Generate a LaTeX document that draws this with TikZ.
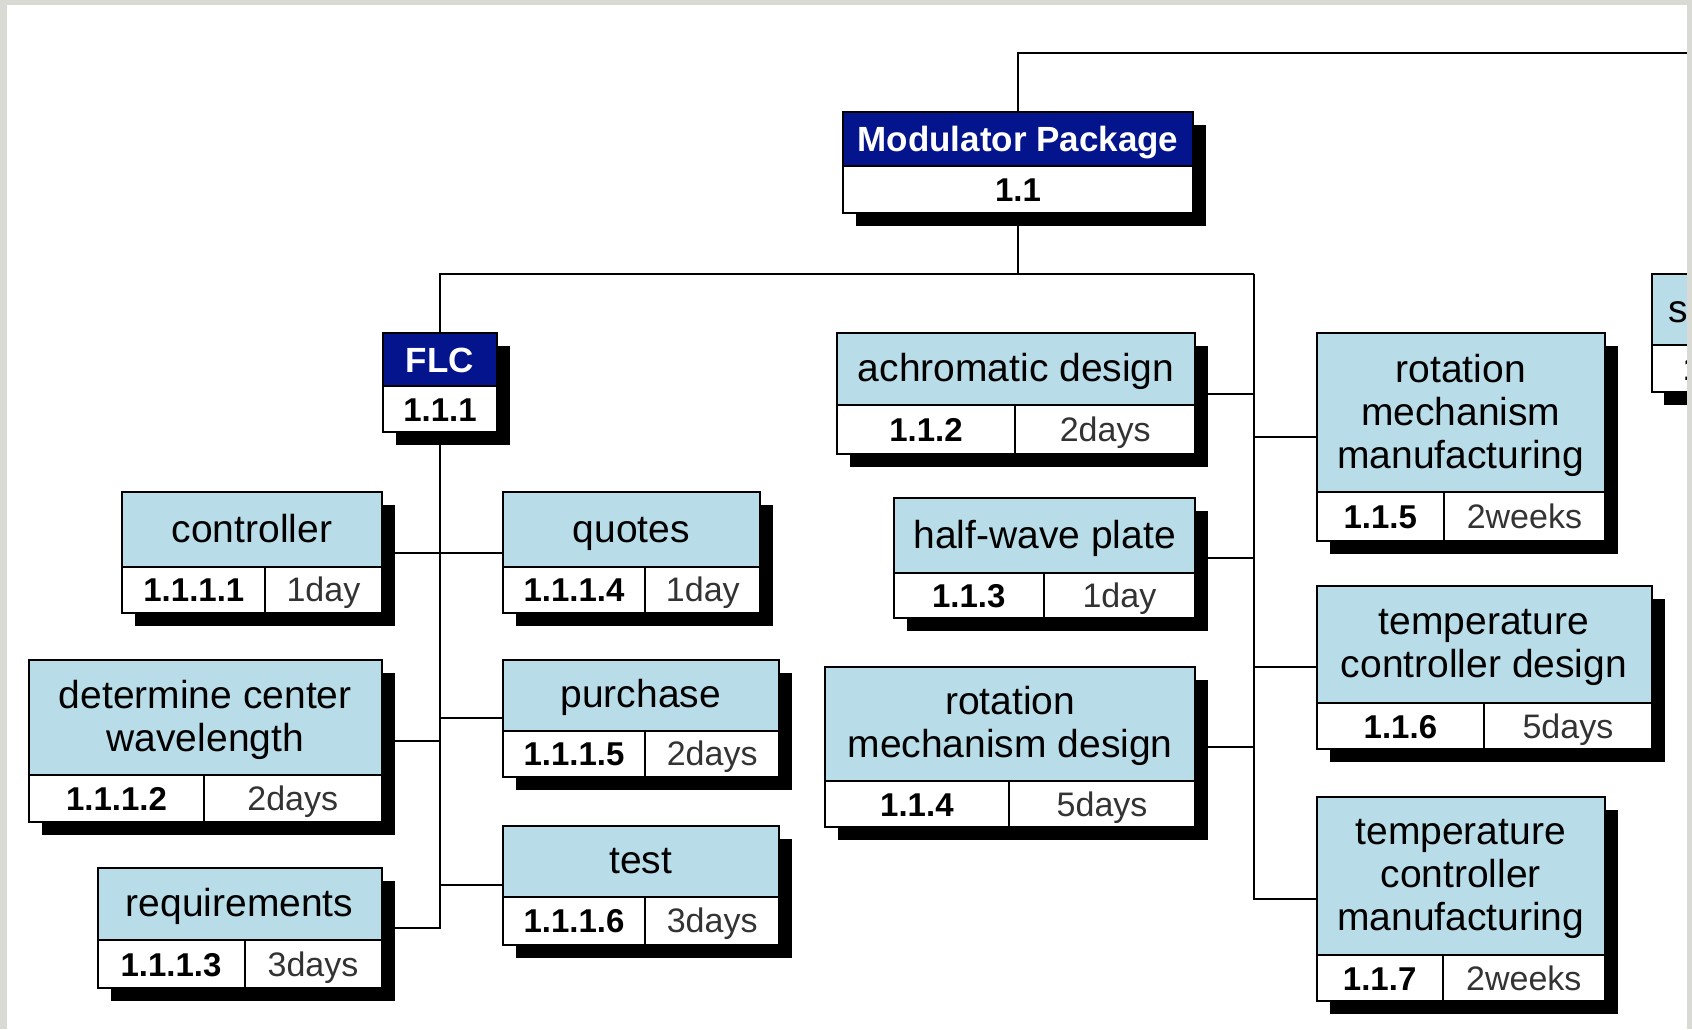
\documentclass[tikz,border=0pt]{standalone}
\usepackage{fontspec}
\setmainfont{Liberation Sans}
\pgfdeclarelayer{bgw}
\pgfdeclarelayer{conn}
\pgfsetlayers{bgw,conn,main}
\definecolor{hdrblue}{RGB}{184,221,232}
\definecolor{navyblue}{RGB}{4,20,140}
\definecolor{framegray}{RGB}{218,218,212}
\newcommand\hdrstrut{\rule[-5pt]{0pt}{22.6pt}}
\def\hdrshift{0pt}
\tikzset{
  boxline/.style={draw=black, line width=1pt},
  connline/.style={draw=black, line width=1pt},
  boxarea/.style={inner sep=0pt, outer sep=0pt, draw=none},
  shadowfill/.style={fill=black},
  hdrtext/.style={font=\fontsize{19.5}{21.5}\selectfont, align=center, inner sep=0pt, text=black,
    execute at begin node=\hdrstrut, execute at end node=\hdrstrut},
  navytext/.style={font=\fontsize{17.5}{20}\selectfont\bfseries, inner sep=0pt, text=white,
    text height=12.6pt, text depth=0pt},
  numtext/.style={font=\fontsize{16.5}{19}\selectfont\bfseries, inner sep=0pt, text=black,
    text height=12pt, text depth=0pt},
  durtext/.style={font=\fontsize{17}{19}\selectfont, inner sep=0pt, text=black!80,
    text height=12pt, text depth=0pt},
}
% light-blue task box: name, l, t, r, b, h(header bottom), s(split), header
\newcommand\tbox[8]{%
  \def\tbL{#2}\def\tbT{#3}\def\tbR{#4}\def\tbB{#5}\def\tbH{#6}\def\tbS{#7}\def\tbN{#1}%
  \fill[shadowfill] ({#2+13},{#3+13}) rectangle ({#4+13},{#5+13});
  \node[boxarea, minimum width={(#4-#2)*0.5pt}, minimum height={(#5-#3)*0.5pt}] (#1) at ({(#2+#4)/2},{(#3+#5)/2}) {};
  \fill[hdrblue] (#2,#3) rectangle (#4,#6);
  \fill[white] (#2,#6) rectangle (#4,#5);
  \draw[boxline] (#2,#3) rectangle (#4,#5);
  \draw[boxline] (#2,#6) -- (#4,#6);
  \draw[boxline] (#7,#6) -- (#7,#5);
  \node[hdrtext, yshift=\hdrshift] (#1-h) at ({(#2+#4)/2},{(#3+#6)/2}) {#8};
}
\newcommand\tcells[2]{%
  \node[numtext] (\tbN-n) at ({(\tbL+\tbS)/2},{(\tbH+\tbB)/2}) {#1};
  \node[durtext] (\tbN-d) at ({(\tbS+\tbR)/2},{(\tbH+\tbB)/2}) {#2};
}
% navy box: name, l, t, r, b, h, header, number
\newcommand\nbox[8]{%
  \fill[shadowfill] ({#2+13},{#3+13}) rectangle ({#4+13},{#5+13});
  \node[boxarea, minimum width={(#4-#2)*0.5pt}, minimum height={(#5-#3)*0.5pt}] (#1) at ({(#2+#4)/2},{(#3+#5)/2}) {};
  \fill[navyblue] (#2,#3) rectangle (#4,#6);
  \fill[white] (#2,#6) rectangle (#4,#5);
  \draw[boxline] (#2,#3) rectangle (#4,#5);
  \draw[boxline] (#2,#6) -- (#4,#6);
  \node[navytext] (#1-h) at ({(#2+#4)/2},{(#3+#6)/2}) {#7};
  \node[numtext] (#1-n) at ({(#2+#4)/2},{(#6+#5)/2}) {#8};
}
\begin{document}
\begin{tikzpicture}[x=0.5pt, y=-0.5pt]
\useasboundingbox (0,0) rectangle (1692,1029);
\begin{pgfonlayer}{bgw}
\fill[white] (0,0) rectangle (1692,1029);
\end{pgfonlayer}

% top-level boxes
\nbox{mod}{843.4}{111.7}{1192.6}{212.7}{166}{Modulator Package}{1.1}
\nbox{flc}{383}{333.3}{497}{432.3}{385.7}{FLC}{1.1.1}

% FLC children
\tbox{ctl}{122.4}{492.3}{381.6}{612.7}{566.7}{265.3}{controller}
\tcells{1.1.1.1}{1day}
\tbox{req}{97.5}{868.3}{381.6}{988.3}{940}{244.5}{requirements}
\tcells{1.1.1.3}{3days}
\tbox{quo}{502.6}{492.3}{760.2}{612.7}{566.7}{645.4}{quotes}
\tcells{1.1.1.4}{1day}
\tbox{pur}{502.6}{660}{779}{776.7}{730.7}{645.4}{purchase}
\tcells{1.1.1.5}{2days}
\tbox{tst}{502.6}{825.7}{779}{945}{896.7}{645.4}{test}
\tcells{1.1.1.6}{3days}

% Modulator Package children
\tbox{ach}{837}{333.3}{1195.3}{454}{405}{1015}{achromatic design}
\tcells{1.1.2}{2days}
\tbox{hwp}{893.9}{498.3}{1195.3}{617.7}{573.3}{1043.5}{half-wave plate}
\tcells{1.1.3}{1day}

% multi-line headers
\def\hdrshift{-1.8pt}
\tbox{dcw}{29}{660}{381.6}{821.7}{775}{204}{determine center\\wavelength}
\tcells{1.1.1.2}{2days}
\tbox{rmd}{825}{666.5}{1195.3}{827.3}{780.7}{1008.8}{rotation\\mechanism design}
\tcells{1.1.4}{5days}
\tbox{rmm}{1316.5}{333.3}{1604.9}{540.7}{492.3}{1443.9}{rotation\\mechanism\\manufacturing}
\tcells{1.1.5}{2weeks}
\tbox{tcd}{1316.5}{585.7}{1651.5}{749}{703.3}{1484.3}{temperature\\controller design}
\tcells{1.1.6}{5days}
\tbox{tcm}{1316.5}{796.7}{1604.9}{1001}{955}{1442.8}{temperature\\controller\\manufacturing}
\tcells{1.1.7}{2weeks}
\def\hdrshift{0pt}

% partly visible box at the right edge
\fill[shadowfill] (1664,287) rectangle (1700,405);
\fill[hdrblue] (1651.7,274) rectangle (1700,345);
\fill[white] (1651.7,345) rectangle (1700,391.7);
\draw[boxline] (1700,274) -- (1651.7,274) -- (1651.7,391.7) -- (1700,391.7);
\draw[boxline] (1651.7,345) -- (1700,345);
\node[hdrtext, anchor=west] (sbox-h) at (1668,309.5) {s};
\node[numtext, anchor=west] (sbox-n) at (1683,368) {1};

% connectors
\coordinate (topR) at (1687,53.3);
\coordinate (busR) at (1254,274);
\begin{pgfonlayer}{conn}
\draw[connline] (mod.north) |- (topR);
\draw[connline] (mod.south) -- (mod.south |- busR);
\draw[connline] (flc.north) |- (busR);
\draw[connline] (busR) |- (tcm.west);
\draw[connline] (flc.south) |- (req.east);
\draw[connline] (ctl.east) -- (ctl.east -| flc.south);
\draw[connline] (dcw.east) -- (dcw.east -| flc.south);
\draw[connline] (quo.west) -- (quo.west -| flc.south);
\draw[connline] (pur.west) -- (pur.west -| flc.south);
\draw[connline] (tst.west) -- (tst.west -| flc.south);
\draw[connline] (ach.east) -- (ach.east -| busR);
\draw[connline] (hwp.east) -- (hwp.east -| busR);
\draw[connline] (rmd.east) -- (rmd.east -| busR);
\draw[connline] (rmm.west) -- (rmm.west -| busR);
\draw[connline] (tcd.west) -- (tcd.west -| busR);
\end{pgfonlayer}

% grey frame
\fill[framegray] (0,0) rectangle (1692,4.7);
\fill[framegray] (0,0) rectangle (7.3,1029);
\fill[framegray] (1687,0) rectangle (1692,1029);
\end{tikzpicture}
\end{document}
